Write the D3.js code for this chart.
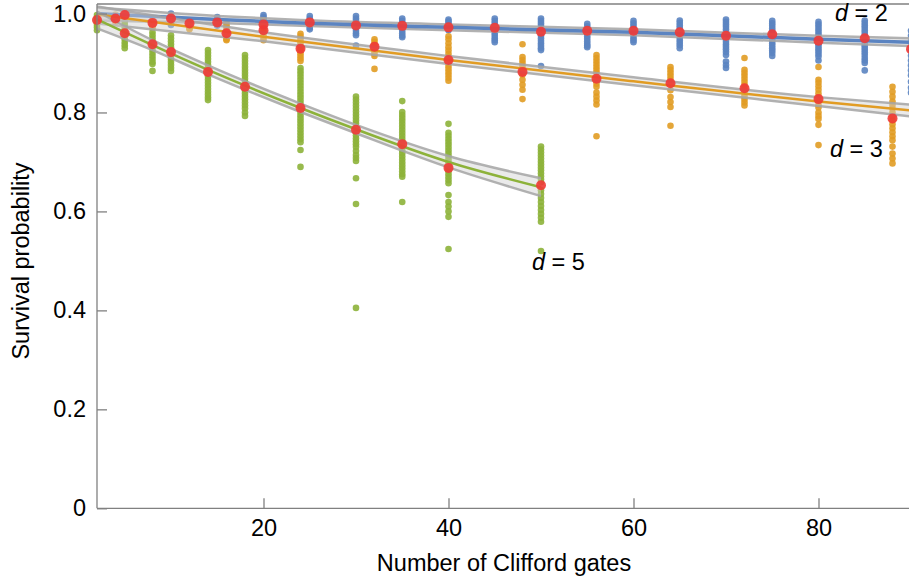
<!DOCTYPE html>
<html lang="en">
<head>
  <meta charset="UTF-8">
  <title>Survival probability vs Clifford gates</title>
  <script src="https://d3js.org/d3.v7.min.js"></script>
  <style>
    body { margin: 0; background: #fff; }
    svg { display: block; font-family: "Liberation Sans", Arial, sans-serif; }
    .axis path, .axis line { stroke: #808080; stroke-width: 1.3; }
    .axis text { font-size: 23.5px; fill: #000; font-family: "Liberation Sans", Arial, sans-serif; }
    .title { font-size: 23.5px; fill: #000; }
  </style>
</head>
<body>
  <svg id="chart" width="909" height="579"></svg>

  <script>
    // d = 2
    const d2X = [5, 10, 15, 20, 25, 30, 35, 40, 45, 50, 55, 60, 65, 70, 75, 80, 85, 90];
    const d2Runs = [
      [1.0, 0.998, 0.995, 0.993, 0.99, 0.988],
      [1.0, 0.996, 0.992, 0.988, 0.984, 0.98, 0.977],
      [0.993, 0.989, 0.985, 0.981, 0.978, 0.975],
      [0.997, 0.993, 0.989, 0.985, 0.981, 0.977],
      [0.995, 0.99, 0.985, 0.98, 0.975, 0.971, 0.968],
      [0.995, 0.99, 0.985, 0.98, 0.975, 0.97, 0.965, 0.96, 0.956, 0.935],
      [0.99, 0.985, 0.98, 0.975, 0.97, 0.965, 0.96, 0.955, 0.952],
      [0.988, 0.984, 0.98, 0.976, 0.972, 0.968, 0.966],
      [0.99, 0.985, 0.98, 0.975, 0.97, 0.965, 0.96, 0.955, 0.95, 0.946, 0.942],
      [0.99, 0.985, 0.98, 0.975, 0.97, 0.965, 0.96, 0.955, 0.95, 0.945, 0.94, 0.935, 0.93, 0.926, 0.894],
      [0.979, 0.974, 0.969, 0.964, 0.959, 0.954, 0.949, 0.944, 0.939, 0.935, 0.932],
      [0.985, 0.98, 0.975, 0.97, 0.965, 0.96, 0.955, 0.95, 0.946, 0.942],
      [0.986, 0.981, 0.976, 0.971, 0.966, 0.961, 0.956, 0.951, 0.946, 0.941, 0.936, 0.93],
      [0.988, 0.983, 0.978, 0.973, 0.968, 0.963, 0.958, 0.953, 0.948, 0.943, 0.938, 0.933, 0.928, 0.922, 0.916, 0.903, 0.896, 0.89],
      [0.985, 0.98, 0.975, 0.97, 0.965, 0.96, 0.955, 0.95, 0.945, 0.94, 0.935, 0.93, 0.925, 0.92, 0.914],
      [0.983, 0.978, 0.973, 0.968, 0.963, 0.958, 0.953, 0.948, 0.943, 0.938, 0.933, 0.928, 0.923, 0.918, 0.913, 0.905],
      [0.986, 0.981, 0.976, 0.971, 0.966, 0.961, 0.956, 0.951, 0.946, 0.941, 0.936, 0.931, 0.926, 0.921, 0.916, 0.91, 0.905, 0.9, 0.885],
      [0.965, 0.955, 0.945, 0.935, 0.925, 0.915, 0.905, 0.895, 0.885, 0.875, 0.862, 0.85, 0.84]
    ];
    const d2Mean = [0.997, 0.99, 0.982, 0.978, 0.982, 0.976, 0.975, 0.972, 0.971, 0.963, 0.965, 0.965, 0.962, 0.955, 0.958, 0.945, 0.95, 0.928];
    const d2FitX = [2, 15, 24, 40, 60, 80, 90];
    const d2Fit = [1.0, 0.988, 0.981, 0.972, 0.962, 0.948, 0.942];
    const d2Lo = [0.986, 0.981, 0.975, 0.966, 0.956, 0.941, 0.934];
    const d2Hi = [1.012, 0.995, 0.987, 0.978, 0.968, 0.955, 0.95];

    // d = 3
    const d3X = [4, 8, 12, 16, 20, 24, 32, 40, 48, 56, 64, 72, 80, 88];
    const d3Runs = [
      [0.998, 0.994, 0.99, 0.986, 0.982],
      [0.99, 0.986, 0.982, 0.978, 0.974, 0.97],
      [0.986, 0.982, 0.978, 0.974, 0.97, 0.968],
      [0.983, 0.978, 0.973, 0.968, 0.963, 0.958, 0.953, 0.948, 0.946],
      [0.986, 0.981, 0.976, 0.971, 0.966, 0.961, 0.956, 0.951, 0.946],
      [0.959, 0.954, 0.949, 0.944, 0.939, 0.934, 0.929, 0.924, 0.919, 0.914, 0.909, 0.904],
      [0.948, 0.943, 0.938, 0.933, 0.928, 0.923, 0.918, 0.914, 0.888],
      [0.954, 0.948, 0.94, 0.932, 0.925, 0.918, 0.912, 0.906, 0.9, 0.894, 0.888, 0.882, 0.876, 0.87, 0.864],
      [0.938, 0.912, 0.906, 0.9, 0.894, 0.888, 0.882, 0.876, 0.866, 0.856, 0.846, 0.827],
      [0.916, 0.91, 0.904, 0.898, 0.892, 0.886, 0.88, 0.866, 0.858, 0.852, 0.84, 0.832, 0.824, 0.816, 0.752],
      [0.892, 0.886, 0.88, 0.874, 0.868, 0.859, 0.845, 0.831, 0.821, 0.811, 0.773],
      [0.91, 0.886, 0.88, 0.874, 0.868, 0.862, 0.856, 0.85, 0.844, 0.838, 0.832, 0.826, 0.82, 0.814],
      [0.892, 0.866, 0.86, 0.853, 0.846, 0.838, 0.83, 0.822, 0.815, 0.81, 0.8, 0.793, 0.787, 0.775, 0.734],
      [0.852, 0.842, 0.832, 0.822, 0.815, 0.808, 0.8, 0.792, 0.784, 0.776, 0.768, 0.76, 0.752, 0.744, 0.731, 0.717, 0.707, 0.697]
    ];
    const d3Mean = [0.99, 0.981, 0.98, 0.96, 0.966, 0.929, 0.933, 0.906, 0.882, 0.868, 0.859, 0.849, 0.827, 0.788];
    const d3FitX = [2, 20, 40, 60, 80, 90];
    const d3Fit = [0.998, 0.953, 0.906, 0.863, 0.822, 0.804];
    const d3Lo = [0.98, 0.944, 0.898, 0.855, 0.813, 0.792];
    const d3Hi = [1.014, 0.962, 0.914, 0.871, 0.831, 0.816];

    // d = 5
    const d5X = [2, 5, 8, 10, 14, 18, 24, 30, 35, 40, 50];
    const d5Runs = [
      [0.997, 0.992, 0.987, 0.982, 0.977, 0.972, 0.966],
      [0.995, 0.99, 0.984, 0.978, 0.972, 0.966, 0.96, 0.954, 0.948, 0.942, 0.936, 0.93],
      [0.962, 0.956, 0.95, 0.944, 0.938, 0.932, 0.926, 0.92, 0.914, 0.908, 0.902, 0.898, 0.884],
      [0.956, 0.95, 0.944, 0.938, 0.932, 0.926, 0.92, 0.914, 0.908, 0.902, 0.896, 0.89, 0.884],
      [0.926, 0.92, 0.914, 0.908, 0.902, 0.896, 0.89, 0.884, 0.878, 0.872, 0.866, 0.86, 0.854, 0.848, 0.842, 0.836, 0.83, 0.825],
      [0.916, 0.91, 0.904, 0.898, 0.892, 0.886, 0.88, 0.874, 0.868, 0.862, 0.856, 0.85, 0.844, 0.838, 0.832, 0.826, 0.82, 0.814, 0.808, 0.8, 0.793],
      [0.89, 0.884, 0.878, 0.872, 0.866, 0.86, 0.854, 0.848, 0.842, 0.836, 0.83, 0.824, 0.818, 0.812, 0.806, 0.8, 0.794, 0.788, 0.782, 0.776, 0.77, 0.764, 0.758, 0.752, 0.746, 0.74, 0.724, 0.69],
      [0.832, 0.826, 0.82, 0.814, 0.808, 0.802, 0.796, 0.79, 0.784, 0.778, 0.772, 0.766, 0.76, 0.754, 0.748, 0.742, 0.736, 0.73, 0.722, 0.714, 0.708, 0.702, 0.667, 0.615, 0.405],
      [0.823, 0.801, 0.795, 0.789, 0.783, 0.777, 0.771, 0.765, 0.759, 0.753, 0.747, 0.741, 0.735, 0.729, 0.723, 0.717, 0.711, 0.705, 0.699, 0.693, 0.687, 0.681, 0.675, 0.67, 0.619],
      [0.777, 0.759, 0.753, 0.747, 0.741, 0.735, 0.729, 0.723, 0.717, 0.711, 0.705, 0.699, 0.693, 0.687, 0.681, 0.675, 0.669, 0.663, 0.657, 0.633, 0.619, 0.61, 0.6, 0.589, 0.524],
      [0.731, 0.725, 0.719, 0.713, 0.707, 0.701, 0.695, 0.689, 0.683, 0.677, 0.671, 0.665, 0.659, 0.643, 0.635, 0.627, 0.619, 0.611, 0.603, 0.595, 0.587, 0.579, 0.52]
    ];
    const d5Mean = [0.987, 0.96, 0.938, 0.922, 0.882, 0.852, 0.809, 0.765, 0.736, 0.688, 0.653];
    const d5FitX = [2, 8, 14, 24, 30, 40, 50];
    const d5Fit = [0.988, 0.936, 0.886, 0.809, 0.766, 0.7, 0.649];
    const d5Lo = [0.97, 0.926, 0.877, 0.801, 0.758, 0.689, 0.631];
    const d5Hi = [1.004, 0.946, 0.895, 0.818, 0.775, 0.712, 0.667];

    const xTicks = [20, 40, 60, 80];
    const yTicks = [0, 0.2, 0.4, 0.6, 0.8, 1.0];

    const series = [
      { label: "2", color: "#5b84c1", width: 3.5, xs: d2X, runs: d2Runs, mean: d2Mean, fx: d2FitX, fit: d2Fit, lo: d2Lo, hi: d2Hi, tx: 835, ty: 21 },
      { label: "3", color: "#e19c24", width: 2.5, xs: d3X, runs: d3Runs, mean: d3Mean, fx: d3FitX, fit: d3Fit, lo: d3Lo, hi: d3Hi, tx: 830, ty: 157 },
      { label: "5", color: "#8db23a", width: 2.5, xs: d5X, runs: d5Runs, mean: d5Mean, fx: d5FitX, fit: d5Fit, lo: d5Lo, hi: d5Hi, tx: 532, ty: 270 }
    ];

    const svg = d3.select("#chart");

    const x = d3.scaleLinear().domain([2, 90]).range([97, 911]);
    const y = d3.scaleLinear().domain([0, 1]).range([508.3, 13.5]);

    // frame top
    svg.append("line")
      .attr("x1", x(2)).attr("x2", 909)
      .attr("y1", y(1.019)).attr("y2", y(1.019))
      .attr("stroke", "#808080").attr("stroke-width", 1.5);

    // scatter dots
    series.forEach(s => {
      const pts = [];
      s.xs.forEach((xv, i) => s.runs[i].forEach(v => pts.push([xv, v])));
      svg.append("g").selectAll("circle")
        .data(pts)
        .enter()
        .append("circle")
        .attr("cx", d => x(d[0]))
        .attr("cy", d => y(d[1]))
        .attr("r", 3.3)
        .attr("fill", s.color)
        .attr("fill-opacity", 0.9);
    });

    // confidence bands + fit lines
    series.forEach(s => {
      const rows = s.fx.map((xv, i) => ({ x: xv, f: s.fit[i], lo: s.lo[i], hi: s.hi[i] }));
      const area = d3.area().x(d => x(d.x)).y0(d => y(d.lo)).y1(d => y(d.hi)).curve(d3.curveMonotoneX);
      svg.append("path").datum(rows)
        .attr("d", area)
        .attr("fill", "#d0d0d0")
        .attr("fill-opacity", 0.45);
      ["lo", "hi"].forEach(k => {
        svg.append("path").datum(rows)
          .attr("d", d3.line().x(d => x(d.x)).y(d => y(d[k])).curve(d3.curveMonotoneX))
          .attr("fill", "none")
          .attr("stroke", "#a5a5a5")
          .attr("stroke-opacity", 0.85)
          .attr("stroke-width", 2.5);
      });
      svg.append("path").datum(rows)
        .attr("d", d3.line().x(d => x(d.x)).y(d => y(d.f)).curve(d3.curveMonotoneX))
        .attr("fill", "none")
        .attr("stroke", s.color)
        .attr("stroke-width", s.width);
    });

    // means
    series.forEach(s => {
      svg.append("g").selectAll("circle")
        .data(s.xs.map((xv, i) => [xv, s.mean[i]]))
        .enter()
        .append("circle")
        .attr("cx", d => x(d[0]))
        .attr("cy", d => y(d[1]))
        .attr("r", 5)
        .attr("fill", "#f03a36")
        .attr("fill-opacity", 0.9);
    });

    // axes (ticks inside)
    svg.append("g")
      .attr("class", "axis")
      .attr("transform", `translate(${x(2)},0)`)
      .call(d3.axisLeft(y).tickValues(yTicks).tickSizeInner(-10).tickSizeOuter(0).tickPadding(11)
        .tickFormat(d => d === 0 ? "0" : d3.format(".1f")(d)))
      .call(g => g.select(".domain").attr("d", `M0,${y(1.019)}V${y(0)}`));

    svg.append("g")
      .attr("class", "axis")
      .attr("transform", `translate(0,${y(0)})`)
      .call(d3.axisBottom(x).tickValues(xTicks).tickSizeInner(-10).tickSizeOuter(0).tickPadding(11))
      .call(g => g.select(".domain").attr("d", `M${x(2)},0H909`));

    // axis titles
    svg.append("text")
      .attr("class", "title")
      .attr("x", 504)
      .attr("y", 571)
      .attr("text-anchor", "middle")
      .text("Number of Clifford gates");

    svg.append("text")
      .attr("class", "title")
      .attr("transform", `translate(29,261) rotate(-90)`)
      .attr("text-anchor", "middle")
      .text("Survival probability");

    // d labels
    series.forEach(s => {
      const t = svg.append("text")
        .attr("class", "title")
        .attr("x", s.tx)
        .attr("y", s.ty);
      t.append("tspan").style("font-style", "italic").text("d");
      t.append("tspan").text(" = " + s.label);
    });
  </script>
</body>
</html>
